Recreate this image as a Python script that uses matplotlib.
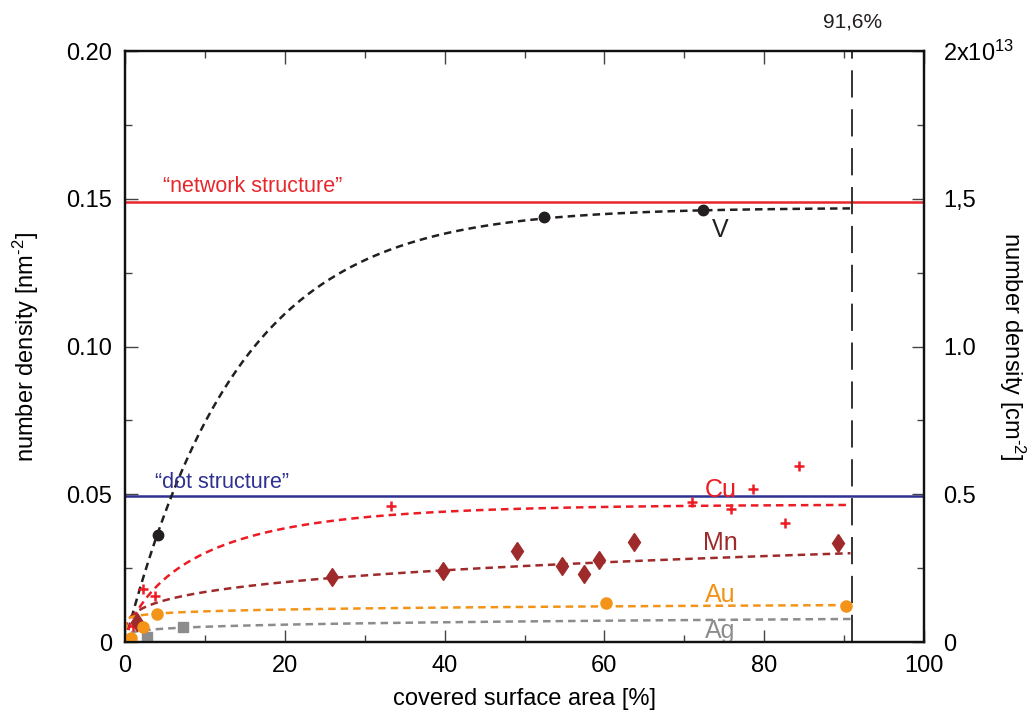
import numpy as np
import matplotlib
matplotlib.use("Agg")
import matplotlib.pyplot as plt

plt.rcParams['font.family'] = ['Liberation Sans', 'DejaVu Sans']
plt.rcParams['mathtext.fontset'] = 'custom'
plt.rcParams['mathtext.rm'] = 'Liberation Sans'
plt.rcParams['mathtext.it'] = 'Liberation Sans'
plt.rcParams['mathtext.bf'] = 'Liberation Sans'

# ---------------- data ----------------
v_x = [4.1, 52.4, 72.3]
v_y = [0.0363, 0.1437, 0.1462]

cu_x = [1.0, 2.2, 3.7, 33.3, 70.9, 75.8, 78.6, 82.6, 84.4]
cu_y = [0.0056, 0.0179, 0.0155, 0.0461, 0.0473, 0.0449, 0.0517, 0.0404, 0.0596]

mn_x = [1.5, 25.9, 39.8, 49.1, 54.7, 57.4, 59.3, 63.7, 89.2]
mn_y = [0.0069, 0.0219, 0.0240, 0.0309, 0.0257, 0.0231, 0.0277, 0.0337, 0.0336]

au_x = [0.8, 2.2, 4.0, 60.2, 90.2]
au_y = [0.0013, 0.0052, 0.0094, 0.0131, 0.0123]

ag_x = [2.7, 7.2]
ag_y = [0.0018, 0.0051]

# fit-curve parameters (model lines of the original figure)
v_fit = dict(a=0.147, c=14.2)                 # a*(1-exp(-x/c))
cu_fit = dict(a=0.0466, c=9.5, p=0.75)        # a*(1-exp(-(x/c)^p))
mn_fit = dict(y90=0.0300, p=0.26)             # y90*(x/90)^p
au_fit = dict(y90=0.0125, p=0.084)
ag_fit = dict(y90=0.0078, p=0.186)
fit_end = 90.8

network_level = 0.149
dot_level = 0.0493
max_cover = 91.0

x_ticks = [0, 20, 40, 60, 80, 100]
y_ticks = [0, 0.05, 0.10, 0.15, 0.20]
y_ticklabels = ['0', '0.05', '0.10', '0.15', '0.20']
y2_ticks = [0, 0.5, 1.0, 1.5, 2.0]
y2_ticklabels = ['0', '0.5', '1.0', '1,5', r'2x10$^{\mathregular{13}}$']

# ---------------- colours ----------------
c_v = '#231f20'
c_cu = '#ed1c24'
c_mn = '#9e2a2b'
c_au = '#f39419'
c_ag = '#8c8c8c'
c_net = '#e8262b'
c_dot = '#2e3192'

fig = plt.figure(figsize=(10.33, 7.15), dpi=100)
ax = fig.add_axes([0.121, 0.102, 0.7735, 0.8266])

xf = np.linspace(0, fit_end, 600)
dash = (0, (3.0, 2.0))
lw_fit = 1.8

ax.plot(xf, v_fit['a'] * (1 - np.exp(-xf / v_fit['c'])), color=c_v, lw=lw_fit, ls=dash, zorder=3)
ax.plot(xf, cu_fit['a'] * (1 - np.exp(-(xf / cu_fit['c']) ** cu_fit['p'])), color=c_cu, lw=lw_fit, ls=dash, zorder=3)
ax.plot(xf, mn_fit['y90'] * (xf / 90) ** mn_fit['p'], color=c_mn, lw=lw_fit, ls=dash, zorder=3)
ax.plot(xf, au_fit['y90'] * (xf / 90) ** au_fit['p'], color=c_au, lw=lw_fit, ls=dash, zorder=3)
ax.plot(xf, ag_fit['y90'] * (xf / 90) ** ag_fit['p'], color=c_ag, lw=lw_fit, ls=dash, zorder=3)

ax.axhline(network_level, color=c_net, lw=1.8, zorder=2)
ax.axhline(dot_level, color=c_dot, lw=1.8, zorder=2)
ax.axvline(max_cover, color='#333333', lw=1.4, ls=(0, (14, 6)), zorder=2)

ax.plot(v_x, v_y, 'o', color=c_v, ms=7.5, zorder=5)
ax.plot(cu_x, cu_y, '+', color=c_cu, ms=7.5, mew=1.8, zorder=5)
ax.plot(mn_x, mn_y, 'd', color=c_mn, ms=9.5, zorder=5)
ax.plot(au_x, au_y, 'o', color=c_au, ms=8, zorder=6)
ax.plot(ag_x, ag_y, 's', color=c_ag, ms=7.5, zorder=5)

fs_lab = 17
ax.text(73.5, 0.1395, 'V', color=c_v, fontsize=18, va='center', ha='left')
ax.text(72.6, 0.0514, 'Cu', color=c_cu, fontsize=18, va='center', ha='left')
ax.text(72.4, 0.0334, 'Mn', color=c_mn, fontsize=18, va='center', ha='left')
ax.text(72.6, 0.0159, 'Au', color=c_au, fontsize=18, va='center', ha='left')
ax.text(72.6, 0.0037, 'Ag', color=c_ag, fontsize=18, va='center', ha='left')

ax.text(4.7, 0.1543, '\u201cnetwork structure\u201d', color=c_net, fontsize=15.5, va='center', ha='left')
ax.text(3.7, 0.0541, '\u201cdot structure\u201d', color=c_dot, fontsize=15.5, va='center', ha='left')

fig.text(853 / 1033, 1 - 22 / 715, '91,6%', fontsize=15, ha='center', va='center', color='#231f20')

ax.set_xlim(0, 100)
ax.set_ylim(0, 0.20)
ax.set_xticks(x_ticks)
ax.set_xticks(np.arange(10, 100, 20), minor=True)
ax.set_yticks(y_ticks)
ax.set_yticklabels(y_ticklabels)
ax.set_yticks(np.arange(0.025, 0.2, 0.05), minor=True)
ax.tick_params(which='both', direction='in', top=True, right=False, labelsize=fs_lab, width=1.0, color='#444444')
ax.tick_params(which='major', length=9, pad=9)
ax.tick_params(which='minor', length=5)
for s in ax.spines.values():
    s.set_linewidth(1.6)
    s.set_color('#111111')

ax.set_xlabel('covered surface area [%]', fontsize=fs_lab, labelpad=8)
ax.set_ylabel(r'number density [nm$^{\text{-2}}$]', fontsize=fs_lab)
ax.yaxis.set_label_coords(-0.105, 0.5)

ax2 = ax.twinx()
ax2.set_ylim(0, 2.0)
ax2.set_yticks(y2_ticks)
ax2.set_yticklabels(y2_ticklabels)
ax2.set_yticks(np.arange(0.25, 2.0, 0.5), minor=True)
ax2.tick_params(which='both', direction='in', labelsize=fs_lab, width=1.0, color='#444444')
ax2.tick_params(which='major', length=9, pad=14)
ax2.tick_params(which='minor', length=5)
for s in ax2.spines.values():
    s.set_linewidth(1.6)
    s.set_color('#111111')
ax2.set_ylabel(r'number density [cm$^{\text{-2}}$]', fontsize=fs_lab, rotation=270, va='center')
ax2.yaxis.set_label_coords(1.11, 0.5)

fig.savefig('out.png', dpi=100)
